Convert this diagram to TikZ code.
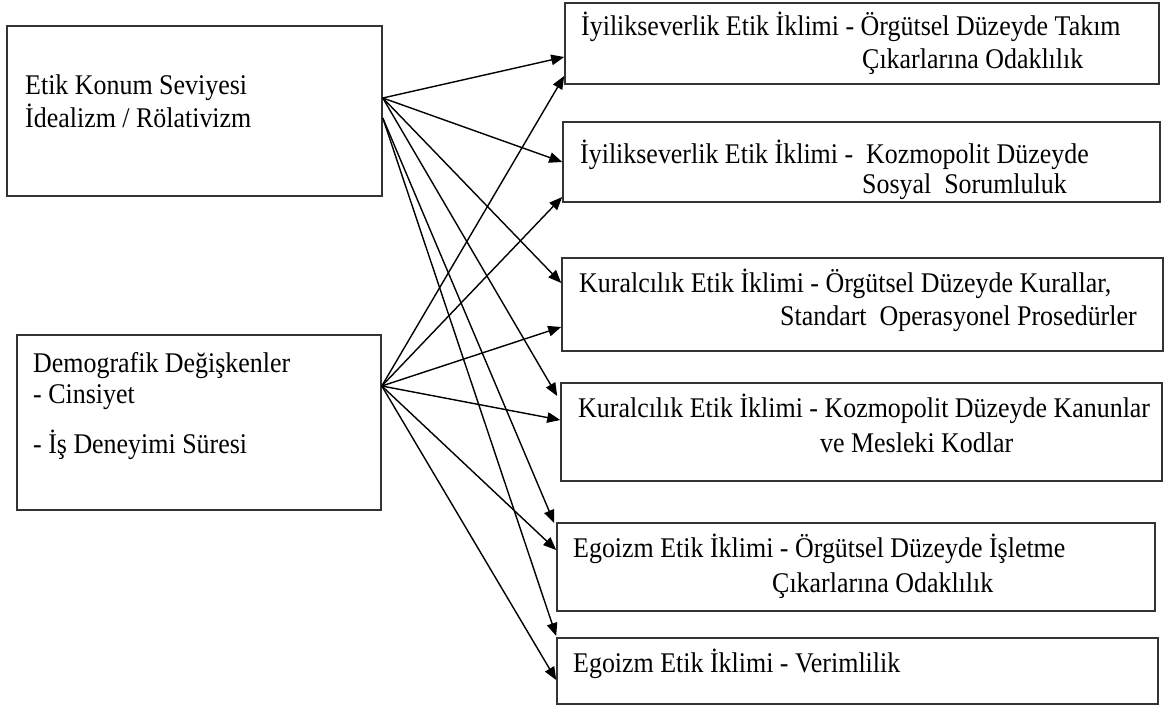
\documentclass[tikz,border=0pt]{standalone}
\usepackage{fontspec}
\setmainfont{Liberation Serif}[FakeStretch=0.91]
\usetikzlibrary{arrows.meta,fit}
\definecolor{boxgray}{HTML}{333333}
\begin{document}
\begin{tikzpicture}[x=1pt,y=-1pt,
  box/.style={draw=boxgray, line width=1.6pt, inner sep=0pt},
  txt/.style={anchor=base west, inner sep=0pt, font=\fontsize{28.5}{33}\selectfont},
  arr/.style={-{Triangle[length=13pt,width=10.5pt]}, line width=1.4pt, draw=black}]
\useasboundingbox (0,0) rectangle (1166,706);
% left boxes
\node[box, fit={(7,26) (382,196)}] (L1) {};
\node[box, fit={(17,335) (381,510)}] (L2) {};
% right boxes
\node[box, fit={(565,3) (1159,84)}] (R1) {};
\node[box, fit={(563,122) (1160,202)}] (R2) {};
\node[box, fit={(562,258) (1163,351)}] (R3) {};
\node[box, fit={(561,383) (1162,481)}] (R4) {};
\node[box, fit={(557,523) (1155,611)}] (R5) {};
\node[box, fit={(557,638) (1158,704)}] (R6) {};
% texts
\node[txt] (l1a) at (25,95) {Etik Konum Seviyesi};
\node[txt] (l1b) at (25,128) {İdealizm / Rölativizm};
\node[txt] (l2a) at (33,372) {Demografik Değişkenler};
\node[txt] (l2b) at (33,403) {- Cinsiyet};
\node[txt] (l2c) at (33,453) {- İş Deneyimi Süresi};
\node[txt] (r1a) at (581,36) {İyilikseverlik Etik İklimi - Örgütsel Düzeyde Takım};
\node[txt] (r1b) at (862,69) {Çıkarlarına Odaklılık};
\node[txt] (r2a) at (580,163) {İyilikseverlik Etik İklimi -\ \ Kozmopolit Düzeyde};
\node[txt] (r2b) at (862,193) {Sosyal\ \ Sorumluluk};
\node[txt] (r3a) at (579,292) {Kuralcılık Etik İklimi - Örgütsel Düzeyde Kurallar,};
\node[txt] (r3b) at (780,325) {Standart\ \ Operasyonel Prosedürler};
\node[txt] (r4a) at (578,417) {Kuralcılık Etik İklimi - Kozmopolit Düzeyde Kanunlar};
\node[txt] (r4b) at (820,452) {ve Mesleki Kodlar};
\node[txt] (r5a) at (573,557) {Egoizm Etik İklimi - Örgütsel Düzeyde İşletme};
\node[txt] (r5b) at (772,592) {Çıkarlarına Odaklılık};
\node[txt] (r6a) at (573,672) {Egoizm Etik İklimi - Verimlilik};
% start points
\coordinate (A) at (L1.east |- 0,98);
\coordinate (B) at (L1.east |- 0,118);
\coordinate (C) at (L2.east |- 0,386);
% arrows from L1
\draw[arr] (A) -- (R1.west |- 0,57);
\draw[arr] (A) -- (R2.west |- 0,162);
\draw[arr] (A) -- (R3.west |- 0,283);
\draw[arr] (A) -- ([xshift=-3pt]R4.west |- 0,396);
\draw[arr] (B) -- ([xshift=-2pt]R5.west |- 0,523);
\draw[arr] (B) -- (R6.west |- 0,636);
% arrows from L2
\draw[arr] (C) -- (R1.west |- 0,76);
\draw[arr] (C) -- (R2.west |- 0,197);
\draw[arr] (C) -- (R3.west |- 0,327);
\draw[arr] (C) -- (R4.west |- 0,420);
\draw[arr] (C) -- (R5.west |- 0,550);
\draw[arr] (C) -- (R6.west |- 0,680);
\end{tikzpicture}
\end{document}
